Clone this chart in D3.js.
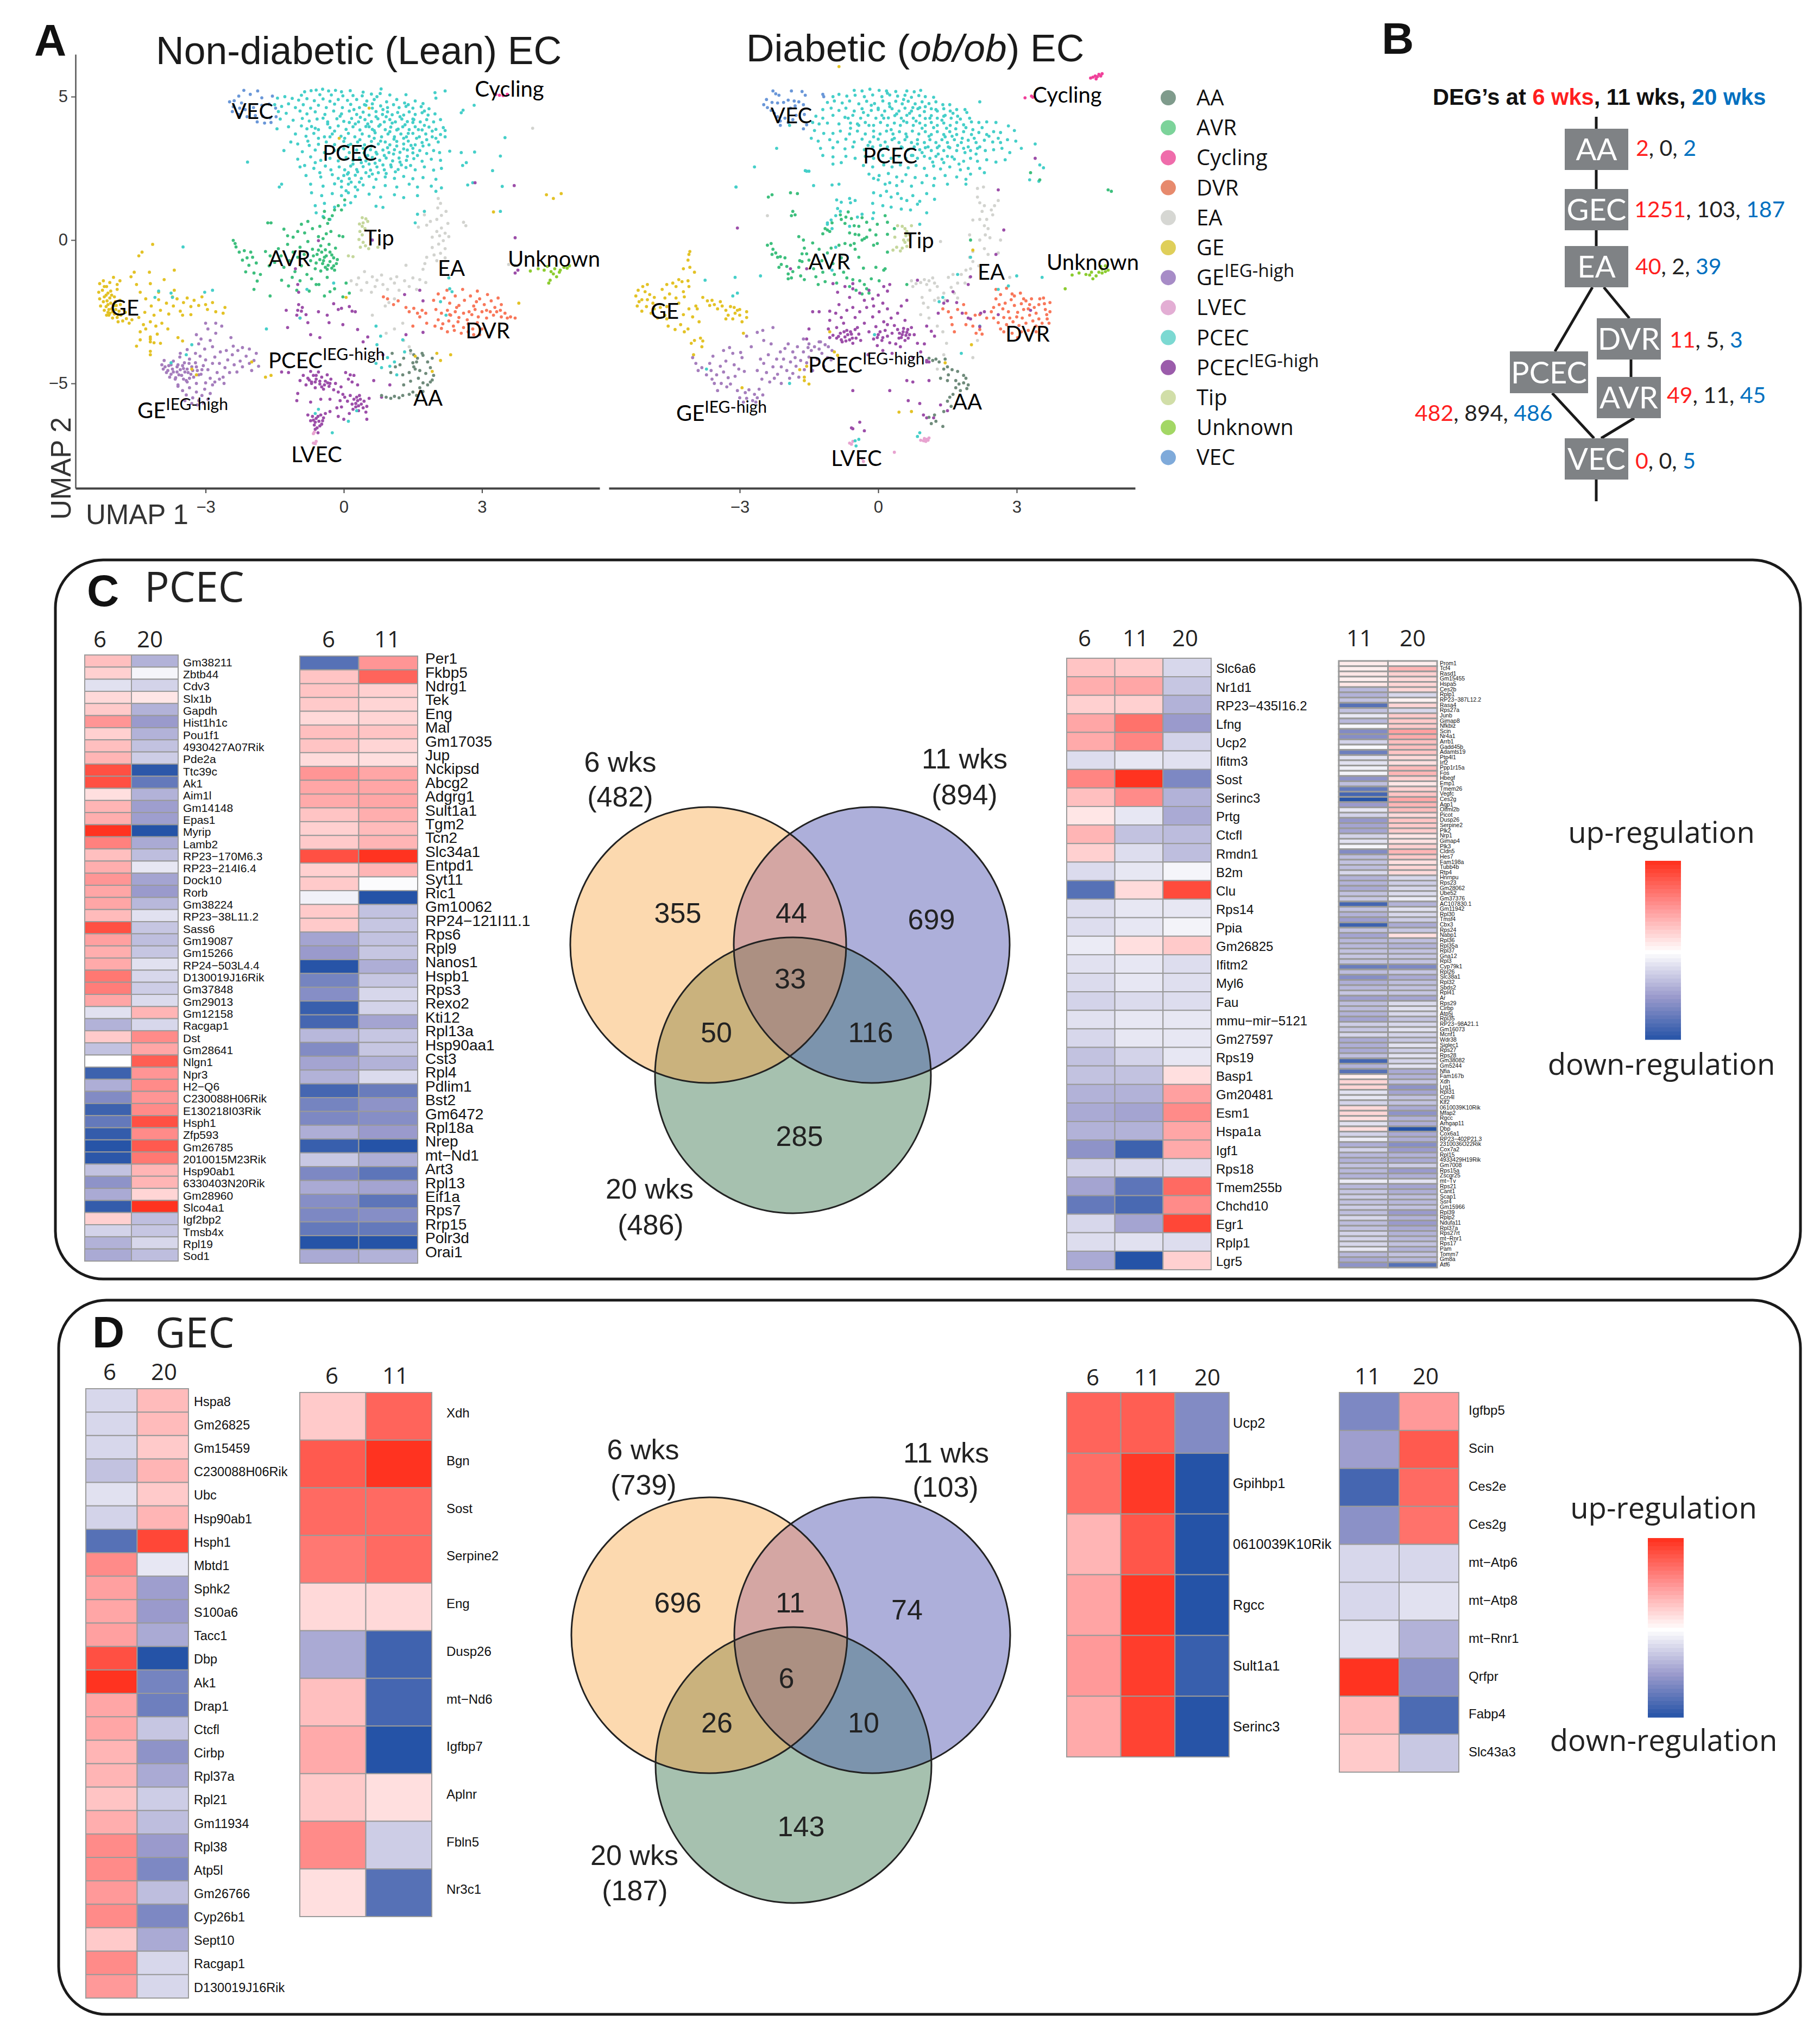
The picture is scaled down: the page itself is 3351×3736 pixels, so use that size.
<!DOCTYPE html>
<html><head><meta charset="utf-8">
<script src="https://cdn.jsdelivr.net/npm/d3@7"></script>
<style>html,body{margin:0;padding:0;background:#fff}svg{display:block}</style></head>
<body><div id="chart"></div>
<script>
// ---------- UMAP points (flat x,y lists) ----------
const lean_PCEC=[-.85,5.17,-.71,5.21,-.6,5.23,-.46,5.26,-.33,5.2,-.18,5.22,-.05,5.17,.14,5.21,.42,5.16,.81,5.27,.6,5.09,.79,5.11,-.92,5.05,-.52,5.07,-.27,5.06,-.02,5.03,.2,5.04,.4,5.03,.72,5,1,5.06,1.35,5.07,1.98,5.14,2.2,5.2,
-1.44,4.95,-1.28,5,-1.12,4.94,-.98,4.88,-.8,4.93,-.64,4.86,-.45,4.92,-.3,4.84,-.12,4.9,.08,4.87,.28,4.9,.5,4.85,.66,4.9,.93,4.82,1.15,4.9,1.32,4.78,1.55,4.85,1.72,4.76,
-1.5,4.72,-1.35,4.66,-1.2,4.75,-1.05,4.62,-.88,4.72,-.72,4.6,-.55,4.7,-.38,4.62,-.2,4.74,-.03,4.62,.15,4.73,.34,4.62,.48,4.7,.62,4.6,.8,4.68,.95,4.62,1.08,4.72,1.2,4.62,1.35,4.66,1.5,4.6,1.68,4.65,1.85,4.58,
-1.42,4.48,-1.25,4.42,-.95,4.5,-.8,4.4,-.62,4.47,-.41,4.38,-.22,4.5,-.05,4.4,.12,4.5,.28,4.38,.42,4.46,.55,4.36,.7,4.48,.84,4.38,.95,4.47,1.05,4.37,1.17,4.45,1.3,4.36,1.42,4.47,1.55,4.38,1.7,4.44,1.83,4.36,1.98,4.4,2.55,4.44,
-1.38,4.22,-1.1,4.18,-.9,4.24,-.75,4.15,-.58,4.22,-.35,4.12,-.15,4.23,0,4.14,.17,4.24,.32,4.12,.46,4.2,.6,4.13,.74,4.23,.88,4.12,1,4.2,1.12,4.12,1.26,4.22,1.38,4.13,1.52,4.2,1.66,4.12,1.8,4.2,1.95,4.12,2.1,4.2,
-1.45,3.88,-1.2,3.95,-.92,3.98,-.8,3.88,-.7,3.96,-.55,3.85,-.3,3.92,-.12,3.98,.05,3.86,.2,3.95,.35,3.84,.48,3.96,.62,3.86,.76,3.97,.9,3.85,1.02,3.94,1.15,3.84,1.28,3.95,1.42,3.85,1.55,3.95,1.7,3.84,1.85,3.94,2,3.86,2.16,3.92,
-1.05,3.7,-.82,3.62,-.65,3.72,-.42,3.6,-.25,3.7,-.06,3.62,.1,3.72,.24,3.6,.4,3.7,.55,3.62,.68,3.74,.82,3.6,.96,3.7,1.1,3.6,1.24,3.7,1.36,3.6,1.5,3.72,1.64,3.6,1.78,3.7,1.92,3.6,2.1,3.68,2.2,3.6,
-1.15,3.42,-1,3.35,-.78,3.45,-.55,3.34,-.38,3.42,-.2,3.33,0,3.44,.15,3.34,.3,3.42,.45,3.32,.6,3.44,.75,3.35,.9,3.42,1,3.32,1.15,3.44,1.3,3.35,1.4,3.45,1.55,3.32,1.7,3.4,1.85,3.32,2.05,3.42,
-1.3,3.12,-.9,3.08,-.62,3.14,-.42,3.05,-.2,3.12,0,3.18,.12,3.05,.28,3.14,.44,3.04,.58,3.15,.7,3.06,.85,3.14,.98,3.05,1.1,3.15,1.22,3.06,1.38,3.14,1.5,3.04,1.65,3.12,1.8,3.02,1.95,3.12,2.3,3.1,2.55,3.05,
-1,2.82,-.72,2.9,-.5,2.78,-.3,2.85,-.12,2.76,.05,2.88,.2,2.78,.34,2.86,.48,2.76,.62,2.88,.78,2.78,.92,2.86,1.06,2.76,1.2,2.86,1.36,2.78,1.52,2.84,1.7,2.75,1.9,2.82,2.1,2.78,2.58,2.6,
-.95,2.55,-.65,2.5,-.4,2.58,-.28,2.45,-.1,2.55,.02,2.45,.15,2.58,.28,2.46,.42,2.56,.58,2.44,.72,2.55,.88,2.45,1.03,2.55,1.18,2.46,1.35,2.53,1.55,2.45,1.75,2.55,1.95,2.44,2.12,2.5,
-.82,2.25,-.5,2.2,-.25,2.28,-.12,2.15,0,2.25,.12,2.14,.25,2.26,.38,2.15,.55,2.22,.7,2.12,.9,2.2,1.1,2.15,1.3,2.22,1.5,2.14,1.72,2.18,2,2.12,
-1.35,1.95,-1.4,1.85,-.72,1.95,-.45,1.88,-.2,1.96,-.05,1.85,.1,1.95,.25,1.85,.42,1.92,.65,1.84,.9,1.9,1.15,1.85,1.42,1.95,1.6,1.85,1.9,1.88,2.12,1.82,2,1.7,
-.7,1.65,-.48,1.55,-.25,1.62,-.05,1.55,.1,1.65,.25,1.52,.55,1.6,.8,1.5,1.1,1.58,1.3,1.48,1.6,1.55,-.62,1.2,-.42,1.28,-.2,1.15,.02,1.22,.15,1.3,.7,1.18,.85,1.14,-.6,.95,-.45,.82,-.3,.72,1.6,.9,1.75,1,1.55,.6,
-2.09,2.72,-3.49,-.24,2.59,4.53,2.83,4.7,2,4.95,2.66,2.7,3.4,2.93,3.23,2.42,2.84,3.07,3.5,3.57,3.4,1,3.44,1.87,2.69,1.92,2.8,2];
const lean_PCEC2=[.22,4.55,.36,4.28,.52,4.05,.66,3.82,.79,4.02,.85,4.55,.92,4.3,1,3.78,1.05,4.08,1.09,3.52,1.18,3.87,1.22,4.3,1.3,3.55,1.33,4.02,1.4,3.72,1.46,3.3,1.5,4.1,1.58,3.55,1.62,3.85,1.72,3.28,1.75,4,.35,3.5,.42,3.2,.52,2.95,.6,3.28,.66,3.55,.72,3,.8,3.45,.88,2.95,.95,3.22,1.02,2.62,1.08,3,1.15,3.28,1.22,2.72,1.3,3.18,1.38,2.92,1.45,2.6,1.5,3.2,1.6,2.95,.1,2.35,.2,2.65,.3,2.38,.38,2.7,.48,2.35,.55,2.65,.62,2.3,.68,2.68,.75,2.35,.85,2.62,.92,2.32,1.12,2.38,1.25,2.62,-.05,2.05,.08,2.3,.16,2.02,.34,2.02,.3,1.75,.05,1.72,-.35,4.05,-.2,3.8,-.55,3.55,-.75,3.3,-.62,3.9,-.45,4.25,-.3,3.6,-.85,2.6,-.62,2.7,-.52,2.35,1.8,3.5,1.92,3.8,2,3.55,2.08,3.05,2.2,3.82,.02,3.55,.1,3.3,.25,4.05,.12,4.1,-.08,4.32,-.12,3.15,.55,3.95,.7,4.3,.45,4.72,.62,4.75,1.4,4.72,1.5,4.22,1.75,4.5];
const lean_VEC=[-2.17,5.22,-1.87,5.2,-2.03,5.08,-2.28,5.02,-2.38,4.86,-2.48,4.82,-1.78,4.96,-1.55,5.02,-2.22,4.78,-2.4,4.65,-2.26,4.6,-2.14,4.55,-1.96,4.62,-1.78,4.7,-1.62,4.74,-1.48,4.6,-2.42,4.48,-2.28,4.38,-2.1,4.3,-1.92,4.34,-1.76,4.32,-1.6,4.26,-1.47,4.3,-1.88,4.12,-1.72,4.08,-1.58,4.1];
const lean_AVR=[-2.4,-.01,-2.34,-.24,-2.27,-.42,-2.16,-.37,-2.02,-.42,-2.2,-.7,-2.06,-.88,-2.13,-1.11,-1.95,-1.15,-1.81,-1.2,-1.88,-1.43,-2.36,-.12,-2.1,-.62,-1.98,-.6,-1.9,-.8,
-1.7,-.4,-1.6,-.55,-1.62,-.9,-1.5,-.78,-1.42,-.3,-1.36,-.55,-1.3,-.95,-1.22,-.15,-1.18,-.72,-1.1,-.42,-1.06,-1.1,-1,-.6,-.95,-.25,-.92,-.9,-.86,-.5,-.8,-1.2,-.78,-.05,-.72,-.72,-.68,-.32,-.62,-1,-.58,-.5,-.55,.12,-.5,-.2,-.46,-.82,-.42,-.6,-.4,-.34,-.36,-1.02,-.32,-.15,-.3,-.75,-.26,-.52,-.22,-.9,-.2,-1.05,-.18,-.28,-.14,-.68,-.5,-1.08,-.7,-1.35,-.95,-1.42,-1.12,-1.3,-.36,-1.3,-.54,-1.55,
-1.3,.38,-1.22,.15,-1.1,.1,-1,.3,-.92,.55,-.85,.25,-.78,.65,-.68,.4,-.52,.48,-.45,.05,-.43,.78,-.38,.22,-.28,.3,-.1,.15,-.02,.12,-.42,1,-.35,.58,-.32,.72,-.25,.85,-.2,1.05,-.12,1.2,-.05,1.05,.02,1.4,
-1.58,.6,-1.65,.6,-1.35,-1.4,-1.2,-1.6,-1.02,-1.75,-.75,-1.78,-.6,-1.55,-.42,-1.95,-.3,-1.8,-.2,-1.7,.05,-1.5,.12,-1.85,-.02,-1.98,-1.95,-1.72,-1.6,-1.95,
-.48,-.42,-.44,-.72,-.38,-.55,-.34,-.88,-.3,-.42,-.26,-.98,-.22,-.62,-.6,-.8,-.55,-.35,-.52,-.68,-.4,-.95,-.66,-.55,-.16,-.82];
const lean_Tip=[.4,.78,.48,.74,.52,.65,.42,.6,.34,.56,.4,.48,.46,.4,.35,.3,.4,.18,.33,.02,.42,-.08,.47,-.2,.36,-.25,.54,-.3,.74,-.25,.1,-.55,.2,-.58];
const lean_EA=[2.05,1.45,2.1,1.28,2.04,1.12,2.22,1,2.12,.86,2.02,.72,1.88,.65,1.8,.52,2.26,.58,2.12,.42,2.02,.3,2.2,.24,2.08,.15,1.92,.1,2.28,.12,2.16,-.02,2.06,-.14,1.92,-.26,2.2,-.3,2.1,-.46,1.96,-.52,1.8,-.6,2.02,-.72,2.2,-.62,1.76,-.82,1.72,-1.02,1.75,.88,1.62,.45,
.16,-1.42,.28,-1.55,.32,-1.32,.45,-1.1,.38,-1.75,.5,-1.48,.62,-1.28,.68,-1.62,.6,-1.82,.72,-1.4,.85,-1.55,.82,-1.22,.95,-1.72,1.02,-1.35,1.1,-1.5,1.15,-1.28,1.2,-1.75,1.32,-1.42,1.42,-1.62,1.5,-1.32,1.58,-1.72,1.65,-1.38,1.78,-1.48,1.35,-.88,1.1,-2.05,.98,-2.18,.9,-2.3,1.28,-2.9,.92,-3.25,1.1,-3.1,1.3,-3.5,1.42,-3.72,1.45,-3.95,.62,-2.62];
const lean_DVR=[.86,-1.98,.95,-2.05,1.08,-2.25,1.18,-2.12,1.35,-2.35,1.42,-2.5,1.52,-2.38,1.6,-2.55,1.7,-2.45,1.78,-2.55,1.65,-2.68,1.8,-2.9,1.5,-3,
1.95,-2.1,2.05,-1.88,2.18,-2.02,2.24,-1.75,2.3,-2.2,2.42,-1.95,2.5,-2.28,2.58,-1.72,2.62,-2.1,2.75,-1.95,2.82,-2.3,2.9,-1.78,2.95,-2.05,3.05,-2.25,3.12,-1.9,3.2,-2.12,3.28,-2.35,3.35,-2.02,3.42,-2.25,
2,-2.42,2.12,-2.55,2.25,-2.45,2.32,-2.62,2.42,-2.5,2.5,-2.7,2.6,-2.55,2.68,-2.78,2.78,-2.6,2.85,-2.42,2.92,-2.68,3,-2.5,3.1,-2.72,3.18,-2.5,3.25,-2.62,3.32,-2.5,3.42,-2.68,3.5,-2.55,3.55,-2.72,3.62,-2.68,3.72,-2.72,
2.05,-2.78,2.15,-2.92,2.28,-2.82,2.38,-3,2.48,-2.85,2.6,-3.05,2.7,-2.92,2.8,-3.1,2.9,-2.88,3,-3.1,2.12,-3.08,2.25,-3.2,2.4,-3.15,2.55,-3.25,2.7,-3.2,2.82,-3.3,2.95,-3.3,1.98,-3,2.3,-2.6,2.45,-2.35,2.72,-2.5,2.88,-2.15,3.1,-2.45,3.4,-2.45];
const lean_Unknown=[4.05,-1.08,4.22,-1,4.35,-1.05,4.42,-.92,4.5,-1.1,4.58,-1,4.62,-1.28,4.48,-1.4,4.45,-1.5,4.55,-1.18,4.7,-1.05,4.78,-.95,4.85,-.98,4.9,-.9,4.68,-1.12];
const lean_Cycling=[3.3,5.08,3.38,5.05,3.46,5.04,3.55,5.08];
const lean_GE=[-5.3,-1.52,-5.22,-1.42,-5.15,-1.62,-5.08,-1.48,-5,-1.3,-4.92,-1.55,-4.86,-1.42,-5.32,-1.82,-5.24,-1.75,-5.16,-1.92,-5.06,-1.78,-4.98,-1.98,-4.92,-1.72,-5.3,-2.05,-5.22,-2.15,-5.16,-2.32,-5.2,-2.45,-5.12,-2.52,-5.06,-2.2,-5.04,-2.4,-4.98,-2.58,-4.94,-2.28,-4.88,-2.48,-5.1,-2.62,-5.02,-2.72,-4.92,-2.7,-4.84,-2.62,-4.8,-2.82,-4.72,-2.74,-4.66,-2.9,-4.6,-2.78,-4.74,-2.52,-5.14,-2.12,-5.08,-2.02,-4.96,-2.15,-4.86,-2.1,
-5.2,-1.98,-5.12,-2.25,-5.08,-2.55,-5.02,-2.5,-4.98,-2.28,-4.95,-2.42,-5.1,-2.42,-5.15,-2.62,-4.9,-2.6,-4.85,-2.25,-5.28,-2.3,-5.04,-1.92,-5.12,-1.85,-5.2,-1.62,-4.78,-2.42,-4.9,-2.85,
-4.62,-1.28,-4.55,-1.12,-4.5,-1.55,-4.42,-1.82,-4.38,-.42,-4.45,-.55,-4.22,-1.12,-4.15,-.15,-4.2,-1.52,-3.68,-1.05,-4.02,-1.82,-3.9,-1.38,-3.68,-1.75,
-4.3,-2.05,-4.18,-2.3,-4.32,-2.52,-4.12,-2.62,-4.02,-2.08,-3.98,-2.45,-3.85,-2.2,-3.8,-2.58,-3.72,-1.98,-3.7,-2.3,-3.62,-2.05,-3.55,-2.48,-3.48,-2.18,-3.4,-2.02,-3.32,-2.32,-3.25,-2.1,-3.15,-2.28,-3.08,-1.98,-3,-2.25,-2.96,-2.42,-2.85,-2.18,-2.78,-2.5,-3.5,-2.62,-3.32,-2.6,
-4.45,-2.7,-4.35,-2.95,-4.2,-2.85,-4.08,-3,-3.95,-2.9,-3.82,-3.1,-4.42,-3.2,-4.3,-3.1,-4.2,-3.38,-4.42,-3.48,-4.12,-3.58,-4.05,-3.28,-3.98,-3.6,-3.6,-3.4,-3.5,-3.52,-4.2,-3.88,-4.5,-3.7,-4.2,-3.45,-4.2,-4,-4.2,-3.55,-2.58,-2.35,-2.62,-2.55];
const lean_GEhigh=[-3,-2.9,-2.95,-3.1,-2.78,-2.9,-2.65,-3,-2.78,-3.25,-2.45,-3.4,-3.2,-3.3,-3.1,-3.45,-2.9,-3.5,-3.15,-3.62,-3.02,-3.8,-2.85,-3.72,-2.68,-3.9,-3.22,-3.95,-3.4,-3.82,-3.55,-3.95,-2.55,-3.85,-2.4,-3.7,-2.3,-3.85,-2.2,-3.75,-2.05,-3.8,
-3.95,-4.35,-3.92,-4.5,-3.9,-4.2,-3.85,-4.62,-3.8,-4.38,-3.78,-4.78,-3.72,-4.5,-3.7,-4.22,-3.66,-4.85,-3.62,-4.6,-3.6,-4.35,-3.56,-4.08,-3.52,-4.72,-3.48,-4.48,-3.46,-4.28,-3.42,-4.9,-3.38,-4.62,-3.35,-4.15,-3.3,-4.42,-3.26,-4.78,-3.22,-4.28,-3.18,-4.55,-3.12,-4.05,-3.1,-4.68,-3.05,-4.38,-3,-4.18,-2.95,-4.52,-2.9,-4.82,-2.85,-4.3,-2.8,-4.08,-2.75,-4.62,-2.7,-4.3,-2.62,-4.78,-2.58,-4.45,-2.52,-4.18,-2.48,-4.62,-2.42,-4,-2.38,-4.35,-2.32,-4.6,-2.25,-4.22,-2.2,-4.42,-2.12,-4.05,-2.05,-4.3,-2,-4.55,-1.95,-4.2,-1.9,-3.95,-1.85,-4.4,
-3.88,-4.42,-3.82,-4.55,-3.75,-4.35,-3.7,-4.6,-3.62,-4.42,-3.58,-4.7,-3.55,-4.52,-3.5,-4.38,-3.45,-4.6,-3.4,-4.5,-3.36,-4.3,-3.32,-4.68,-3.28,-4.55,-3.75,-4.68,-3.65,-4.8,-3.48,-4.85,-3.35,-4.82,-3.2,-4.42,-3.15,-4.7,-3.08,-4.52,
-3.6,-5.1,-3.5,-5.25,-3.42,-5.4,-3.35,-5.15,-3.28,-5.5,-3.2,-5.3,-3.15,-5.6,-3.08,-5.42,-3.02,-5.2,-2.95,-5.55,-2.9,-5.35,-2.85,-5.05,-3.45,-5.6,-3.3,-5.7,-3.18,-5.75,-3.05,-5.68,-3.6,-5.05,-3.4,-4.95,-3.2,-5,-3,-4.98,-2.8,-4.95,-2.7,-4.85,-2.6,-5];
const lean_PCECh=[-.95,-4.9,-.88,-4.72,-.82,-5.05,-.78,-4.82,-.72,-4.58,-.7,-4.95,-.66,-4.72,-.62,-5.15,-.6,-4.85,-.55,-4.6,-.52,-5.02,-.48,-4.78,-.44,-5.2,-.4,-4.92,-.36,-4.7,-.32,-5.1,-.28,-4.85,-.22,-5.22,-.18,-5,-.12,-5.3,-.06,-5.12,-.02,-5.38,.04,-4.62,.1,-4.85,.14,-4.7,.18,-4.95,.22,-4.72,.02,-5.48,.08,-5.62,.14,-5.42,.18,-5.72,.22,-5.55,.26,-5.82,.3,-5.6,.34,-5.42,.38,-5.72,.42,-5.85,.44,-5.62,.32,-5.95,.5,-5.8,.2,-5.9,
-.7,-5,-.6,-4.72,-.52,-4.92,-.42,-5.05,-.35,-4.98,-.62,-4.95,-.48,-5.12,-.3,-5,-.75,-4.88,.26,-5.7,.32,-5.78,.36,-5.55,.28,-5.48,-.62,-6.35,-.56,-6.15,-.52,-6.48,-.66,-6.28,-.46,-6.3,
-.78,-6.1,-.72,-6.3,-.68,-6.15,-.64,-6.45,-.6,-6.22,-.58,-6.55,-.54,-6.32,-.5,-6.1,-.48,-6.42,-.44,-6.2,-.4,-6.05,-.62,-6.6,-.56,-6.72,-.3,-5.98,-1,-5.35,-1.02,-5.6,-.72,-5.65,-.5,-5.55,-.3,-5.55,-.15,-5.85,-.12,-6.15,0,-6.25,.12,-6.05,.5,-6.25,.48,-6,-.05,-5.82,
-1.05,-1,-1,-1.55,-.98,-1.82,-.98,-2.25,-1,-2.45,-1.02,-2.62,-.95,-2.72,-.92,-2.48,-.9,-2.35,-.82,-2.6,-.78,-2.88,-.72,-3.3,-.55,-2.5,-.36,-2.62,-.32,-2.88,-.22,-2.22,-.12,-2.42,-.05,-2.38,.12,-2.32,.18,-2.48,.25,-2.5,.3,-3.12,.52,-3.38,-.52,-3.4,-1.22,-3.05,-1.25,-2.45,-.02,-2.95,-1.35,-4.6,-1.2,-4.62,.85,-4,.42,-3.55,1.35,-3.3,1.72,-3.22,1.65,-1.75,1.72,-2.12,1.32,-1.9,-.55,-.02,.62,0,2.85,2,3.7,1.9,3.72,-1.15,3.78,-1.05,3.72,.08,.82,-5.48,.65,-4.9,.3,-5.05,-.08,-5.6,.55,-5.52,1,-5.05];
const lean_AA=[.82,-5.42,.92,-5.48,1.02,-5.52,1.1,-5.45,1.2,-5.5,1.28,-5.42,1.42,-5.38,1.5,-5.3,1.58,-5.42,1.65,-5.15,1.72,-5.28,1.82,-5.05,1.88,-4.95,1.72,-4.98,1.62,-4.82,1.42,-4.62,1.28,-4.7,1.45,-4.92,1.3,-5.05,1.52,-4.42,1.65,-4.55,1.78,-4.65,1.88,-4.45,1.95,-4.72,1.5,-4.28,1.6,-4.12,1.72,-4.02,1.58,-4.25,1.82,-4.25,1.92,-4.12,1.7,-3.95,1.52,-4,1.45,-3.85,1.55,-4.5,1.92,-4.88,1.22,-4.35,1.02,-4.62,1.12,-4.42,1.05,-3.95,1.3,-4.12];
const lean_LVEC=[-.66,-6.75,-.64,-6.7,-.62,-7.1,-.66,-7.08,-.6,-7.02];
const lean_strayPCEC=[.7,-4.3,.95,-4.1,1,-4.4,1.1,-4.25,.82,-4.45,1.32,-3.9,1.15,-4.7,.1,-6.32,-.25,-6.72,-.55,-5.9,-.62,-6.05,.28,-5.95,-1.68,-3.1,-.95,-2.72,-.22,-1.5,-.8,-1.72,2.3,-1.7,2.35,-1.8,2.22,-2.62,2.1,-2.15,2.28,-1.32,.7,-3,.8,-3.35,.72,-3.65,1.28,-3.48,-3.75,-1.85,-3.72,-2,-4.1,-2,-4.02,-1.78,-3.02,-1.82,-2.85,-1.75,-3.75,-4.28,-3.42,-4,-3.3,-3.65];
const lean_strayGE=[4.4,1.58,4.55,1.45,4.72,1.62,3.25,.98,3.8,-2.2,2.02,-3.95,2.1,-4.2,1.92,-4.58,2.32,-4,1.55,-4.05,.05,-2,-1.58,-4.72,-1.7,-4.78,-3.3,-4.5,-2,-4.25,-.1,3.55,.55,4.6,-3.2,-4.7];
const lean_strayGrey=[4.1,3.9,3.58,-.85,3.72,-.88,2.6,.62,2.65,.5];

const ob_PCEC=[-.52,5.22,-.35,5.2,-.18,5.26,.02,5.22,.18,5.2,.38,5.18,.62,5.2,.78,5.17,.92,5.22,-.98,5,-.85,5.08,-.68,5.02,-.5,5.05,-.3,5,-.12,5.06,.08,5,.25,5.06,.42,5.02,.58,5.05,.72,4.98,.88,5.04,1.02,5,1.2,4.98,2.2,4.82,
-1.1,4.8,-.95,4.85,-.78,4.78,-.62,4.85,-.42,4.75,-.25,4.84,-.08,4.76,.1,4.85,.24,4.76,.38,4.84,.52,4.75,.65,4.84,.8,4.75,.95,4.82,1.1,4.76,1.25,4.82,1.4,4.72,1.55,4.72,
-1.2,4.55,-1.02,4.6,-.85,4.52,-.7,4.6,-.52,4.5,-.35,4.58,-.15,4.52,0,4.6,.14,4.5,.3,4.58,.45,4.5,.58,4.6,.72,4.5,.86,4.58,1,4.48,1.15,4.58,1.28,4.5,1.42,4.58,1.56,4.5,1.7,4.55,1.92,4.45,
-1.35,4.32,-1.2,4.25,-.98,4.35,-.72,4.28,-.55,4.35,-.38,4.25,-.22,4.35,-.05,4.25,.08,4.35,.22,4.26,.36,4.34,.5,4.25,.62,4.35,.76,4.25,.9,4.34,1.02,4.24,1.15,4.34,1.28,4.25,1.42,4.32,1.58,4.25,1.72,4.32,
-1.42,4.1,-1.28,4.05,-1.1,4.08,-.85,4.05,-.6,4.08,-.42,4,-.28,4.1,-.1,4,.05,4.1,.2,4,.35,4.08,.48,4,.62,4.1,.76,4,.9,4.08,1.02,4,1.15,4.1,1.28,4,1.42,4.08,1.56,4,1.7,4.1,1.85,4.02,2.02,4.12,2.18,4.1,2.35,4.12,2.55,4.1,2.82,3.98,
-1.38,3.82,-1.18,3.72,-.98,3.72,-.82,3.8,-.62,3.7,-.45,3.8,-.28,3.7,-.1,3.8,.04,3.7,.18,3.8,.32,3.7,.46,3.78,.6,3.7,.74,3.8,.88,3.7,1.02,3.78,1.15,3.68,1.28,3.78,1.42,3.68,1.55,3.78,1.7,3.68,1.85,3.78,2.02,3.68,2.18,3.75,2.35,3.68,2.5,3.78,2.65,3.75,2.95,3.82,
-1.45,3.55,-1.3,3.45,-1.05,3.5,-.88,3.42,-.7,3.52,-.52,3.42,-.35,3.52,-.18,3.42,0,3.52,.15,3.42,.3,3.5,.45,3.4,.58,3.5,.72,3.4,.85,3.5,1,3.4,1.12,3.5,1.25,3.4,1.38,3.5,1.5,3.4,1.65,3.5,1.8,3.4,1.95,3.48,2.12,3.4,2.3,3.48,2.48,3.42,2.65,3.4,2.8,3.5,2.98,3.45,
-1.25,3.2,-.98,3.22,-.72,3.18,-.55,3.25,-.3,3.15,-.12,3.25,.05,3.15,.2,3.25,.35,3.15,.52,3.22,.65,3.15,.78,3.25,.9,3.15,1.02,3.22,1.15,3.12,1.28,3.22,1.42,3.12,1.55,3.22,1.7,3.12,1.85,3.2,2,3.12,2.15,3.2,2.32,3.12,2.5,3.15,2.68,3.2,2.85,3.05,3.1,3.2,
-1.2,2.95,-.98,2.9,-.7,2.92,-.5,2.85,-.28,2.92,-.1,2.85,.1,2.95,.28,2.85,.45,2.92,.6,2.85,.72,2.95,.85,2.85,1,2.92,1.12,2.85,1.25,2.92,1.38,2.82,1.5,2.92,1.65,2.82,1.85,2.75,2,2.85,2.15,2.75,2.35,2.8,2.55,2.72,2.75,2.8,
-.98,2.65,-.8,2.7,-.32,2.6,-.12,2.55,.12,2.62,.3,2.55,.48,2.62,.65,2.52,.82,2.6,1,2.5,1.2,2.58,1.35,2.48,1.55,2.55,1.78,2.45,1.95,2.5,2.2,2.5,2.3,2.35,
-1.58,2.42,-1.5,2.4,-.2,2.3,.02,2.25,.22,2.32,.4,2.2,.6,2.28,.8,2.18,1.05,2.25,1.22,2.15,1.45,2.25,1.7,2.2,1.9,2.12,2,2.3,
-.1,2.15,0,2.1,.15,1.95,.25,2,.4,1.9,.52,2.05,.72,1.88,.95,2,1.2,1.9,1.5,1.95,1.9,1.95,-1,1.92,-.85,1.95,-1.4,1.9,
-.1,1.65,.05,1.55,.18,1.7,.28,1.5,.42,1.62,.5,1.45,.62,1.38,.75,1.55,.9,1.35,1.05,1.62,1.22,1.42,-.9,1.4,-.8,1.32,-.6,1.3,-.62,1.45,-.5,1.38,-.12,1.28,.1,1.2,.28,1.15,.5,1.08,.7,1.05,.85,1.25,
-.82,1,-.92,.85,-1.02,.7,-.88,1.1,-1.1,.55,.9,.55,-.35,.9,-.1,.95,-3.08,1.85,-1.1,.6,3.4,3.35,3.5,2.62,3.58,2.52,3.28,2.1,3.48,2.05,1.05,.95,-.45,.8,-.12,.75,-.92,-.25,-1,.4,1.72,-1.2,1.4,-2,-.62,.48,-1,-1.05,2,-.6];
const ob_PCEC2=[.25,4.65,.4,4.4,.55,4.15,.68,4.42,.82,4.15,.95,3.9,1.02,4.65,1.1,3.62,1.2,3.92,1.25,4.55,1.32,3.28,1.38,4.18,1.45,3.6,1.48,3.9,1.52,3.25,1.6,3.62,1.62,4.42,1.68,3.88,1.72,3.3,1.78,4.22,1.82,3.55,1.88,4.55,1.9,3.92,1.95,3.25,1.98,4.25,2.05,3.85,2.08,3.55,2.12,3,2.25,3.92,.35,3.55,.5,3.25,.62,3.6,.75,2.95,.85,3.35,.95,3.05,1.08,3.25,1.18,2.72,1.3,3,1.42,2.7,1.6,2.9,1.75,2.65,1.88,3.05,-.1,3.6,-.2,4,-.32,4.45,-.45,4.05,0,4.55,.12,4.25,.28,3.85,-.6,3.9,-.65,4.25,-.15,4.7,.2,5.12,.55,4.9,.75,4.62,.9,4.62,-.22,3.3,.05,3.3,1.12,4.25,1.45,4.35,2.2,3.25,2.4,3.62,2.6,3.55];
const ob_VEC=[-2.28,5.2,-2.22,5.1,-2.15,5.05,-1.88,5.2,-1.65,5.18,-1.58,5.05,-2.42,4.9,-2.48,4.72,-2.4,4.62,-2.3,4.8,-2.18,4.78,-2.05,4.8,-1.95,4.88,-1.82,4.85,-1.72,4.82,-1.62,4.72,-1.9,4.6,-1.8,4.68,-2.32,4.52,-2.25,4.42,-2.18,4.3,-2.12,4.15,-2.02,4.25,-1.95,4.1,-1.85,4.2,-1.78,4.35,-1.6,4.38,-1.55,4.02,-1.62,3.88,-2.12,4,-1.2,5.08,-1.18,5];
const ob_AVR=[-2.4,-.18,-2.32,-.12,-2.28,-.32,-2.22,-.45,-2.3,-.5,-2.18,-.6,-2.12,-.58,-2.02,-.62,-2.1,-.85,-2.15,-.95,-1.98,-.92,-1.95,-1.18,-1.95,-1.35,-1.85,-1.1,-1.88,-1.32,-1.7,-.72,-1.72,-.95,-1.65,-.48,-1.6,-.28,-1.62,0,-1.72,.12,-1.65,-.75,-1.68,-1.25,-1.6,-1.38,
-1.55,-.48,-1.5,-.7,-1.42,-.1,-1.4,-1,-1.35,-1.28,-1.3,-1.55,-1.28,-.32,-1.22,-.72,-1.2,-1.12,-1.15,-1.45,-1.1,-.45,-1.02,-.28,-.98,-.82,-.95,-1.2,-.9,-1.5,-.85,-.18,-.8,-.62,-.75,-1.12,-.72,-.12,-.68,-1.32,-.62,-1.62,-.6,-.18,-.55,-1.38,-.52,-.12,-.48,-1.75,-.42,-.6,-.4,-1.42,-.35,-1.88,-.32,-.98,-.3,-1.55,-.25,-1.7,-.2,-1.85,-.15,-1.35,-.1,-.18,-.05,-.95,.02,-1.42,.12,-1.05,.2,-.42,.15,-1,-.02,-.12,
-1.2,.22,-1.15,.4,-1.1,.35,-1.05,.3,-1,.6,-.82,.88,-.8,.72,-.72,.58,-.7,.8,-.65,.98,-.58,.75,-.52,.5,-.62,.25,-.5,.2,-.5,-.32,-.42,.18,-.42,.48,-.35,0,-.3,.05,-.25,.1,-.35,.78,-.18,.35,-.05,.18,-.25,.62,.2,.62,.15,.85,-.02,.55,-1.8,.88,-1.85,1,-2.38,1.5,-2.3,1.58,.35,.4,.2,.2,.62,-1.55];
const ob_Tip=[.42,.5,.52,.48,.58,.4,.62,.3,.6,.15,.65,0,.58,-.08,.62,-.22,.52,-.28,.4,-.25,.32,-.35,.48,-.38,.68,.18,.55,0,.72,.5,.36,.1];
const ob_EA=[2.15,1.8,2.28,1.85,2.15,1.5,2.2,1.3,2.3,1.2,2.25,1,2.45,1.05,2.52,1.2,2.6,1.38,2.48,.88,2.35,.72,2.2,.72,2.05,.7,2.3,.5,2.38,.4,2.32,.18,2.42,.08,2.2,0,2.3,-.3,2.38,-.5,2.6,-.45,2.65,0,1.98,.18,2.05,-.4,1.98,-.6,2.05,-.75,2,-1,2.18,-.9,1.9,-1.05,1.8,-1.2,1.98,-1.3,1.88,-1.5,1.72,-1.5,
.72,-1.42,.75,-1.62,.82,-1.52,.92,-1.48,1,-1.38,1.1,-1.42,1.18,-1.32,1.22,-1.5,1.28,-1.62,1.05,-1.55,1.12,-1.75,.95,-2,.98,-2.2,1.08,-2.35,1.22,-2.1,1.3,-2.02,1.45,-2.1,1.42,-1.85,1.58,-1.65,1.65,-1.85,1.72,-2.02,1.52,-1.3,1.62,-1.2,.92,-2.6,1.1,-2.72,1.28,-3,1.4,-3.2,1.48,-3.6,1.42,-4,1.28,-4.5];
const ob_DVR=[1.4,-2.4,1.52,-2.5,1.72,-2.42,1.85,-2.25,1.9,-2.55,1.58,-2.7,2.1,-2.62,2.2,-2.6,2.35,-2.72,2.45,-2.5,1.9,-2.95,2.05,-3,2.2,-3.12,2.12,-3.25,2.25,-3.28,1.6,-2.95,1.65,-3.2,
2.55,-1.72,2.65,-1.9,2.78,-1.68,2.9,-1.88,2.95,-1.95,3.08,-1.85,3.15,-2.05,2.55,-2.05,2.62,-2.25,2.5,-2.35,2.7,-2.4,2.75,-2.2,2.82,-2.5,2.88,-2.08,2.95,-2.28,3.02,-2.52,3.1,-2.22,3.15,-2.42,3.2,-2.12,3.25,-2.4,3.28,-2.25,3.32,-2.05,3.38,-2.35,3.42,-2.55,3.48,-2.25,3.5,-2.05,3.58,-2.02,3.6,-2.22,3.62,-2.42,3.65,-2.6,3.66,-2.75,3.7,-2.9,3.72,-2.5,3.72,-2.18,
2.5,-2.72,2.6,-2.88,2.72,-2.7,2.78,-2.95,2.85,-2.72,2.92,-2.85,3,-2.68,3.05,-2.98,3.12,-2.72,3.2,-2.9,3.28,-2.62,3.35,-2.82,3.42,-3,3.48,-2.75,3.55,-2.9,2.65,-3.1,2.9,-3.25,3.1,-3.2,3.25,-3.15,3.42,-3.2,2.72,-3.2,3.02,-3.4];
const ob_Unknown=[4.2,-1.22,4.35,-1.15,4.5,-1.2,4.58,-1.22,4.62,-1.12,4.72,-1.25,4.78,-1.12,4.85,-1.15,4.92,-1.1,4.98,-1.05,4.65,-1.35,4.85,-1.02,4.05,-1.7,4.82,-.92,4.92,-.9];
const ob_Cycling=[4.6,5.65,4.65,5.68,4.7,5.72,4.75,5.7,4.78,5.78,4.72,5.62,4.82,5.72,4.85,5.8,3.18,4.96,3.32,5.02,3.35,4.98];
const ob_GE=[-5.2,-1.75,-5.1,-1.62,-5,-1.55,-5.05,-1.8,-4.95,-1.9,-5.25,-1.95,-5.18,-2.15,-5.12,-2.08,-5.22,-2.3,-5.12,-2.48,-5.02,-2.32,-5,-2.08,-4.92,-2.55,-4.88,-2.2,-4.85,-2.4,-4.85,-2,-4.78,-2.72,-4.72,-2.35,-4.68,-1.72,-4.62,-2.02,-4.58,-2.32,-4.58,-1.55,-4.52,-1.88,-4.45,-1.5,-4.38,-1.62,-4.32,-1.38,-4.25,-1.45,-4.22,-1.8,-4.2,-1.98,-4.12,-1.42,-4.1,-1.62,-4.32,-2.2,-4.38,-2.02,
-4.62,-2.62,-4.58,-2.75,-4.55,-3,-4.4,-3.12,-4.28,-2.95,-4.22,-2.6,-4.2,-3.2,-4.12,-3.1,-4.1,-2.4,-4.02,-2.68,-4.05,-3.6,-3.98,-3.5,-3.95,-2.3,-3.88,-2.85,-3.85,-3.42,-3.82,-3.72,-3.8,-3.52,-4,-4,-4.22,-1,-4.12,-.7,-4.1,-.5,-4.08,-.95,-4.08,-.4,-3.98,-1.12,
-3.92,-2.4,-3.8,-2,-3.7,-2.12,-3.65,-2.28,-3.6,-2.1,-3.55,-2.25,-3.48,-2.4,-3.42,-2.15,-3.38,-2.3,-3.3,-2.45,-3.25,-2.62,-3.2,-2.32,-3.15,-2.75,-3.1,-2.55,-3.05,-2.45,-3,-2.62,-2.95,-2.85,-3,-2.42,-2.85,-2.5,-2.85,-2.7,-3.12,-2.35,-3.3,-2.75];
const ob_GEhigh=[-4.02,-4.1,-3.95,-4.3,-3.9,-4.55,-3.82,-4.45,-3.72,-4.7,-3.65,-4.3,-3.62,-4.55,-3.58,-4.05,-3.6,-4.85,-3.55,-5,-3.5,-4.7,-3.48,-5.25,-3.42,-4.4,-3.4,-5,-3.35,-4.6,-3.35,-3.85,-3.3,-4.22,-3.28,-5.12,-3.25,-4.8,-3.22,-3.75,-3.2,-5.02,-3.15,-3.95,-3.12,-4.35,-3.1,-4.75,-3.05,-5.25,-3.02,-4.5,-2.98,-3.92,-3,-5.5,-2.95,-4.1,-2.9,-4.58,-2.88,-5.32,-2.85,-5.52,-2.8,-5.22,-2.75,-3.72,-2.72,-5.6,-2.68,-5.38,-2.62,-5.5,-2.65,-5.65,-2.58,-5.2,-2.5,-5.4,-2.92,-5.65,
-2.85,-3.35,-2.62,-3.22,-2.5,-3.15,-2.48,-3.5,-2.62,-4.55,-2.55,-4.15,-2.52,-4.85,-2.48,-4.3,-2.42,-4.62,-2.38,-4,-2.35,-4.95,-2.32,-3.62,-2.28,-4.42,-2.25,-4.82,-2.2,-4.15,-2.18,-4.68,-2.12,-3.9,-2.1,-4.42,-2.1,-5,-2.05,-4.15,-2.02,-3.78,-1.98,-4.55,-1.95,-3.62,-1.92,-4.82,-1.9,-4.25,-1.85,-3.9,-1.85,-4.65,-1.8,-4.1,-1.78,-4.4,-1.75,-3.72,-1.72,-4.78,-1.68,-4.2,-1.62,-3.9,-1.6,-4.52,-1.55,-4.28,-1.52,-3.75,-1.5,-4.08,-1.45,-3.85,-1.42,-4.55,-1.38,-3.72,-1.32,-4.15,-1.28,-3.8,-1.25,-3.55,-1.22,-3.95,-1.18,-4.4,-1.15,-3.65,-1.1,-4.1,-1.08,-3.72,-1.05,-3.4,-1,-3.85,-1.02,-4.18,-1.28,-3.55,-1.62,-3.45,-1.5,-3.62,-2.28,-3.05];
const ob_PCECh=[-.98,-1.52,-.88,-1.82,-.72,-1.62,-.62,-2,-.55,-1.7,-.4,-1.85,-.3,-2.1,-.2,-1.75,-.12,-2.05,0,-1.92,.12,-1.62,.2,-1.78,.1,-2.2,-.1,-2.3,
-1.42,-2.5,-1.28,-2.5,-1.05,-2.48,-1.05,-2.8,-.92,-2.55,-.9,-3.05,-.85,-2.25,-.8,-2.7,-.75,-2.9,-.68,-2.45,-.55,-2.35,-.5,-2.7,-.45,-3.05,-.4,-2.5,-.3,-2.9,-.25,-2.35,-.12,-2.68,-.05,-3.02,.02,-2.5,.12,-2.85,.2,-2.4,.28,-2.72,.35,-2.98,.42,-2.55,.5,-2.3,.58,-2.8,.62,-2.1,
-1.08,-3.1,-.98,-3.32,-.9,-3.42,-.82,-3.25,-.78,-3.55,-.72,-3.38,-.68,-3.15,-.62,-3.48,-.58,-3.28,-.55,-3.6,-.5,-3.12,-.48,-3.42,-.42,-3.28,-.38,-3.5,-.2,-3.2,-.1,-3.45,-.02,-3.68,0,-3.3,.08,-3.5,.15,-3.15,.2,-3.35,.25,-3.58,.3,-3.25,.38,-3.62,.42,-3.12,.45,-3.42,.52,-3.3,.55,-3.08,.58,-3.5,.62,-3.22,.65,-3.42,.48,-3.72,.72,-3.05,.78,-3.3,.85,-3.6,.92,-3.9,1,-3.62,1.05,-3,1.15,-3.18,1.22,-3.35,1.3,-2.55,1.42,-2.2,1.7,-2.18,2,-2.75,2.22,-2.55,-.22,-4,.1,-3.85,.3,-3.95,.75,-4.1,1.1,-4.25,-1.05,-3.4,-1.5,-3.1,-1.55,-3.45,1.05,-4.2,1.05,-4.25,
-.86,-3.36,-.8,-3.48,-.74,-3.2,-.7,-3.52,-.66,-3.3,-.6,-3.2,-.56,-3.42,.5,-3.4,.54,-3.2,.6,-3.32,.64,-3.12,.68,-3.3,.46,-3.25,-.02,-3.4,.04,-3.2,.1,-3.4,
1.1,-4.9,.62,-4.9,.75,-4.95,-.55,-5.25,.25,-5.25,.65,-5.6,.9,-5.7,1.35,-5.75,1.5,-5.95,.98,-6.1,1.05,-6.2,1.2,-6.2,-.4,-6.35,-.55,-6.58,-.3,-6.65];
const ob_AA=[1.1,-4.12,1.18,-4.2,1.25,-4.15,1.32,-4.25,1.45,-4.15,1.5,-4.42,1.42,-4.5,1.6,-4.52,1.52,-4.7,1.35,-4.82,1.5,-4.9,1.72,-4.58,1.85,-4.72,1.9,-4.82,1.68,-4.9,1.75,-5.02,1.85,-4.98,1.68,-5.15,1.78,-5.25,1.92,-5.18,1.95,-5.05,1.62,-5.38,1.5,-5.62,1.58,-5.8,1.42,-5.98,1.22,-6.1,1.1,-6.18,1.25,-6.32,1.15,-6.4,1.4,-6.5,1.55,-5.48];
const ob_LVEC=[1,-6.92,1.05,-6.95,.98,-7,1.08,-6.98,1.03,-7.02,1.1,-6.9,.92,-6.98,-.62,-7.08,-.58,-7.12,-.55,-7.02,-.35,-7.62,-.32,-7.72,.35,-7.4];
const ob_strayGE=[-.85,6.05,-1.05,-3.2,-.95,-3.9,-.88,-4.02,-1.6,-4.78,-1.55,-4.4,-1.7,-4.52,-1.6,-4.9,.45,-6,.72,-5.98,1.45,-4.28,2.05,-.35,2.02,-3.65,-2.95,-5.15,-2.92,-3.25,-1.5,-5.02];
const ob_strayPCEC=[-3.08,1.85,-2.68,2.55,-2.2,3.2,-1.92,4,-1.55,2.4,-2.55,-1.25,-3.05,-1.85,-3.15,-1.95,-3.75,-1.4,-3.1,-1.3,-.08,-3.3,-3.72,-4.5,2.2,-3,1.32,-2.15,3,-1.25,3.55,-1.3,.9,-6.72,.85,-6.85,-.5,-7,-.48,-7.18,-.42,-6.95,2.6,-1.72,2.82,-1.6,1.8,-3.95,-1.92,-5];
const ob_strayPurple=[-3.05,.42,3.4,2.85,.2,-2.95,2.6,1.75,2.72,.35,2.55,-.5,1.95,-1.55,2,-1.28,1.62,-1.8,.85,-1.4,.25,-1.55,-.55,-1.52,-1.55,-1,-1.9,-1,2.3,-2.5,2.6,-2.6,2.2,-3.02,1.95,-2.72,1.82,-2.55,3.3,-2.45,1.5,-2.12,-.58,-6.55];
const ob_strayGreen=[4.98,1.75,5.05,1.7,3.3,2.35,3.5,2.1,-1.75,1.62,-1.9,1.65,-1.88,.85,2,0];
const ob_strayGrey=[-2.4,.85,1.35,-.05,2.85,-1.3,2.15,-3.5,2.05,-4.1];

// ---------- cluster names and colours ----------
const clusterNames=["AA","AVR","Cycling","DVR","EA","GE","GE|IEG-high","LVEC","PCEC","PCEC|IEG-high","Tip","Unknown","VEC"];
const legendColors=["#7f9b8c","#7cd39a","#ef6cab","#e78a6d","#d6d7d3","#dfcf5a","#a78cc7","#e3aed4","#7cd9d2","#9b5cab","#d1dea8","#a3d765","#7faada"];
const dotColors={AA:"#6f8b7b",AVR:"#3dbf7d",Cycling:"#f0409a",DVR:"#f8775a",EA:"#d2d3cf",GE:"#e3c226",GEh:"#a57dbd",LVEC:"#e8a3d0",PCEC:"#45cfc9",PCECh:"#9c4ea9",Tip:"#c5d79c",Unknown:"#8ccc30",VEC:"#6a97d8"};

// ---------- heatmap values ----------
const c1Genes=["Gm38211","Zbtb44","Cdv3","Slx1b","Gapdh","Hist1h1c","Pou1f1","4930427A07Rik","Pde2a","Ttc39c","Ak1","Aim1l","Gm14148","Epas1","Myrip","Lamb2","RP23−170M6.3","RP23−214I6.4","Dock10","Rorb","Gm38224","RP23−38L11.2","Sass6","Gm19087","Gm15266","RP24−503L4.4","D130019J16Rik","Gm37848","Gm29013","Gm12158","Racgap1","Dst","Gm28641","Nlgn1","Npr3","H2−Q6","C230088H06Rik","E130218I03Rik","Hsph1","Zfp593","Gm26785","2010015M23Rik","Hsp90ab1","6330403N20Rik","Gm28960","Slco4a1","Igf2bp2","Tmsb4x","Rpl19","Sod1"];
const c1Wk6=[.3,.22,-.15,.18,.25,.5,.22,.3,.35,.85,.85,.15,.35,.38,1,.6,.3,.38,.5,.42,.42,.32,.85,.45,.38,.4,.65,.62,.42,-.15,-.38,.25,-.3,0,-.88,-.4,-.6,-.88,-.72,-.92,-.97,-.95,-.3,-.55,-.42,-.92,.22,-.22,-.38,-.42];
const c1Wk20=[-.38,-.05,-.22,.12,-.38,-.5,-.38,-.3,-.25,-.95,-.72,-.38,-.48,-.48,-.98,-.42,-.32,-.12,-.45,-.5,-.35,-.15,-.28,-.32,-.28,-.15,-.2,-.25,-.18,.35,-.2,.55,.42,.78,.5,.55,.5,.55,.85,.55,.8,.65,.35,.35,.2,1,-.32,-.28,-.2,-.32];
const c2Genes=["Per1","Fkbp5","Ndrg1","Tek","Eng","Mal","Gm17035","Jup","Nckipsd","Abcg2","Adgrg1","Sult1a1","Tgm2","Tcn2","Slc34a1","Entpd1","Syt11","Ric1","Gm10062","RP24−121I11.1","Rps6","Rpl9","Nanos1","Hspb1","Rps3","Rexo2","Kti12","Rpl13a","Hsp90aa1","Cst3","Rpl4","Pdlim1","Bst2","Gm6472","Rpl18a","Nrep","mt−Nd1","Art3","Rpl13","Eif1a","Rps7","Rrp15","Polr3d","Orai1"];
const c2Wk6=[-.78,.28,.28,.25,.18,.3,.28,.17,.5,.42,.4,.28,.22,.25,.85,.22,.25,-.07,.25,.25,-.45,-.5,-.97,-.65,-.58,-.9,-.85,-.35,-.6,-.45,-.38,-.85,-.65,-.62,-.4,-.9,-.27,-.62,-.42,-.58,-.62,-.72,-.98,-.42];
const c2Wk11=[.5,.75,.22,.2,.2,.28,.2,.15,.42,.42,.42,.38,.32,.35,1,.35,-.02,-.98,-.3,-.28,-.3,-.28,-.4,-.28,-.2,-.22,-.45,-.28,-.28,-.38,-.18,-.7,-.55,-.58,-.5,-.98,-.4,-.75,-.45,-.75,-.58,-.72,-.98,-.38];
const c3Genes=["Slc6a6","Nr1d1","RP23−435I16.2","Lfng","Ucp2","Ifitm3","Sost","Serinc3","Prtg","Ctcfl","Rmdn1","B2m","Clu","Rps14","Ppia","Gm26825","Ifitm2","Myl6","Fau","mmu−mir−5121","Gm27597","Rps19","Basp1","Gm20481","Esm1","Hspa1a","Igf1","Rps18","Tmem255b","Chchd10","Egr1","Rplp1","Lgr5"];
const c3Wk6=[.28,.38,.22,.42,.4,-.17,.58,.3,.12,.35,.22,-.18,-.78,-.17,-.17,-.1,-.15,-.18,-.22,-.15,-.2,-.3,-.3,-.38,-.42,-.38,-.55,-.22,-.45,-.72,-.2,-.17,-.42];
const c3Wk11=[.25,.42,.22,.68,.58,-.12,1,.55,-.12,-.3,-.17,-.12,.17,-.12,-.12,.15,-.12,-.12,-.18,-.12,-.12,-.22,-.3,-.38,-.45,-.38,-.88,-.2,-.75,-.83,-.45,-.15,-.98];
const c3Wk20=[-.2,-.28,-.38,-.5,-.22,-.15,-.62,-.38,-.42,-.33,-.32,-.05,.88,-.12,-.06,.25,-.17,-.16,-.17,-.12,-.12,-.12,.15,.45,.55,.42,.4,-.17,.72,.55,.9,-.17,.22];
const c4Genes=["Prom1","Tcf4","Rasd1","Gm15455","Hspa5","Ces2b","Rplp1","RP23−387L12.2","Rasa4","Rps27a","Junb","Gimap8","Nfkbiz","Scin","Nr4a1","Arrb1","Gadd45b","Adamts19","Ptp4l1","Irf2","Ppp1r15a","Fos","Hbegf","Emp1","Tmem26","Vegfc","Ces2g","Aqp1","Olfml2b","Picot","Dusp26","Serpine2","Plk2","Nrp1","Gimap4","Plk3","Cldn5","Hes7","Fam198a","Tubb4b","Rtp4","Hnrnpu","Rps23","Gm28062","Ube52","Gm37376","AC107830.1","Gm11942","Rpl30","Tmsf4","Cbx3","Rps24","Nabp1","Rpl36","Rpl35a","Rpl37","Gna12","Rpl3","Cyp79k1","Rpl26","Slc38a1","Rpl32","Sbds2","Rpl41","Ar","Rps29","Cirbp","Atp5j","Rpl35","RP23−98A21.1","Gm16073","Mcnf1","Wdr38","Siglec1","Rps27","Rps28","Gm38082","Gm5244","Nfia","Fam167b","Xdh","Lrg1","Rpl31","Ccn4l","Klf2","0610039K10Rik","Mfap2","Rgcc","Arhgap11","Dbp","Cox6a1","RP23−402P21.3","2310036O22Rik","Cox7a2","Rpl15","4933429H19Rik","Gm7008","Rps15a","Zscgr25","mt−Tv","Rps21","Cant1","Scap1","Ssr4","Gm15966","Rpl39","Rplp2","Ndufa11","Rpl37a","Rps27rt","mt−Rnr1","Rps17","Pam","Tomm7","Gm8a","Atf6"];
const c4Wk11=[.1,.08,.12,.08,.12,-.35,-.38,-.3,-.78,-.3,-.12,-.35,-.04,-.6,-.58,-.22,-.03,-.68,-.15,-.15,-.08,-.06,-.55,-.32,-.72,-.85,-.97,-.5,-.12,-.22,-.52,-.45,-.45,-.22,-.15,-.05,-.6,-.32,-.3,-.32,-.2,-.38,-.38,-.42,-.3,-.27,-.85,-.3,-.38,-.48,-.88,-.3,-.45,-.35,-.35,-.3,-.28,-.3,-.7,-.33,-.58,-.4,-.35,-.28,-.48,-.32,-.33,-.38,-.45,-.25,-.28,-.2,-.42,-.4,-.42,-.32,-.85,-.38,-.78,.08,.2,.2,-.15,-.12,-.22,.18,.2,.15,-.15,.16,-.22,-.1,-.4,-.22,-.35,-.38,-.3,-.35,-.38,-.1,-.35,-.28,-.25,-.3,-.25,-.32,-.2,-.33,-.3,-.22,-.22,-.2,-.12,-.35,-.42,-.55];
const c4Wk20=[.08,.35,.22,.18,.2,.2,-.2,.06,.2,-.2,.25,.25,.25,.45,.4,.3,.3,.28,.18,.15,.32,.35,.22,.12,.22,.28,.42,.35,.32,.18,.28,.25,.25,.12,.14,.22,.35,.25,.15,.2,.18,-.2,-.25,-.2,-.18,-.1,-.38,-.15,-.2,-.25,-.42,-.28,.15,-.32,-.38,-.3,-.28,-.3,-.62,-.28,-.42,-.32,-.3,-.28,-.45,-.18,-.15,-.2,-.3,-.2,-.15,-.22,-.28,-.15,-.25,-.15,-.22,-.15,-.42,-.38,-.3,-.55,-.45,-.3,-.3,-.42,-.55,-.38,-.4,-.98,-.42,-.4,-.58,-.5,-.38,-.42,-.25,-.5,-.4,-.15,-.45,-.4,-.32,-.35,-.3,-.5,-.38,-.5,-.42,-.38,-.35,-.3,-.38,-.3,-.35,-.78];
const d1Genes=["Hspa8","Gm26825","Gm15459","C230088H06Rik","Ubc","Hsp90ab1","Hsph1","Mbtd1","Sphk2","S100a6","Tacc1","Dbp","Ak1","Drap1","Ctcfl","Cirbp","Rpl37a","Rpl21","Gm11934","Rpl38","Atp5l","Gm26766","Cyp26b1","Sept10","Racgap1","D130019J16Rik"];
const d1Wk6=[-.2,-.2,-.2,-.3,-.15,-.22,-.78,.55,.45,.42,.45,.85,1,.42,.42,.35,.35,.28,.38,.55,.55,.48,.55,.25,.55,.48];
const d1Wk20=[.32,.32,.25,.35,.25,.35,.9,-.12,-.48,-.5,-.42,-.98,-.65,-.68,-.28,-.55,-.42,-.25,-.32,-.5,-.62,-.32,-.62,-.42,-.2,-.2];
const d2Genes=["Xdh","Bgn","Sost","Serpine2","Eng","Dusp26","mt−Nd6","Igfbp7","Aplnr","Fbln5","Nr3c1"];
const d2Wk6=[.25,.8,.72,.65,.18,-.42,.3,.4,.25,.55,.15];
const d2Wk11=[.75,1,.72,.72,.18,-.87,-.85,-.98,.15,-.25,-.78];
const d3Genes=["Ucp2","Gpihbp1","0610039K10Rik","Rgcc","Sult1a1","Serinc3"];
const d3Wk6=[.75,.7,.35,.43,.48,.4];
const d3Wk11=[.78,.97,.82,.98,.95,.92];
const d3Wk20=[-.6,-.98,-.98,-.98,-.9,-.97];
const d4Genes=["Igfbp5","Scin","Ces2e","Ces2g","mt−Atp6","mt−Atp8","mt−Rnr1","Qrfpr","Fabp4","Slc43a3"];
const d4Wk11=[-.62,-.48,-.85,-.56,-.2,-.2,-.15,1,.32,.25];
const d4Wk20=[.48,.8,.72,.68,-.2,-.15,-.38,-.56,-.82,-.27];

// ---------- Venn numbers, panel B ----------
const vennC=["355","44","699","33","50","116","285"];
const vennD=["696","11","74","6","26","10","143"];
const vennCTotals=["(482)","(894)","(486)"];
const vennDTotals=["(739)","(103)","(187)"];
const vennWeeks=["6 wks","11 wks","20 wks"];
const degBoxes=["AA","GEC","EA","DVR","AVR","PCEC","VEC"];
const degCounts=[[2,0,2],[1251,103,187],[40,2,39],[11,5,3],[49,11,45],[482,894,486],[0,0,5]];

// ---------- drawing ----------
const svg=d3.select("#chart").append("svg").attr("width",3351).attr("height",3736).attr("viewBox","0 0 3351 3736");
const ARIAL="'Liberation Sans',Arial,sans-serif", OPEN="'Open Sans',sans-serif", LATO="Lato,sans-serif";
const color=d3.scaleLinear().domain([-1,-.5,0,.5,1]).range(["#2050a5","#9a9acc","#ffffff","#ff9595","#ff3320"]);
function txt(x,y,s,o={}){const t=svg.append("text").attr("x",x).attr("y",y).text(s)
 .attr("font-family",o.f||ARIAL).attr("font-size",o.s||40).attr("fill",o.c||"#1a1a1a").attr("text-anchor",o.a||"start");
 if(o.w)t.attr("font-weight",o.w);return t;}

function umap(xr,xd,series,labels,showY){
 const x=d3.scaleLinear().domain(xd).range(xr), y=d3.scaleLinear().domain([-8.655,6.477]).range([899,100]);
 const g=svg.append("g");
 series.forEach(([pts,c])=>{const ds=d3.range(0,pts.length,2).map(i=>[pts[i],pts[i+1]]);
  g.selectAll(null).data(ds).join("circle").attr("cx",d=>x(d[0])).attr("cy",d=>y(d[1])).attr("r",2.9).attr("fill",c);});
 const ax=svg.append("g").attr("transform","translate(0,899)").call(d3.axisBottom(x).tickValues([-3,0,3]).tickSize(9).tickSizeOuter(0).tickPadding(14));
 ax.select(".domain").attr("stroke","#444").attr("stroke-width",4);
 ax.selectAll("line").attr("stroke","#444").attr("stroke-width",2);
 ax.selectAll("text").attr("font-family",ARIAL).attr("font-size",31).attr("fill","#333");
 if(showY){const ay=svg.append("g").attr("transform",`translate(${xr[0]},0)`).call(d3.axisLeft(y).tickValues([-5,0,5]).tickSize(8).tickSizeOuter(0).tickPadding(6));
  ay.select(".domain").attr("stroke","#555").attr("stroke-width",2.5);
  ay.selectAll("line").attr("stroke","#555").attr("stroke-width",2);
  ay.selectAll("text").attr("font-family",ARIAL).attr("font-size",31).attr("fill","#333");}
 labels.forEach(([s,lx,ly,a])=>{const [m,sup]=s.split("|");
  const t=txt(lx,ly,m,{f:LATO,s:40,a:a||"middle",c:"#000"});
  if(sup)t.append("tspan").attr("dy",-15).attr("font-size",30).text(sup);});
}
umap([139,1104],[-5.825,5.554],[[lean_EA,dotColors.EA],[lean_strayGrey,dotColors.EA],[lean_PCEC,dotColors.PCEC],[lean_PCEC2,dotColors.PCEC],[lean_VEC,dotColors.VEC],[lean_AVR,dotColors.AVR],[lean_Tip,dotColors.Tip],[lean_DVR,dotColors.DVR],[lean_Unknown,dotColors.Unknown],[lean_GE,dotColors.GE],[lean_GEhigh,dotColors.GEh],[lean_PCECh,dotColors.PCECh],[lean_AA,dotColors.AA],[lean_LVEC,dotColors.LVEC],[lean_Cycling,dotColors.Cycling],[lean_strayPCEC,dotColors.PCEC],[lean_strayGE,dotColors.GE]],
 [["VEC",465,219],["PCEC",644,296],["Cycling",938,178],["Tip",698,452],["AVR",533,490],["Unknown",1020,491],["EA",831,508],["GE",230,581],["DVR",898,623],["PCEC|IEG-high",494,678,"start"],["GE|IEG-high",253,770,"start"],["AA",788,747],["LVEC",583,851]],true);
umap([1121,2090],[-5.835,5.565],[[ob_EA,dotColors.EA],[ob_strayGrey,dotColors.EA],[ob_PCEC,dotColors.PCEC],[ob_PCEC2,dotColors.PCEC],[ob_VEC,dotColors.VEC],[ob_AVR,dotColors.AVR],[ob_Tip,dotColors.Tip],[ob_DVR,dotColors.DVR],[ob_Unknown,dotColors.Unknown],[ob_GE,dotColors.GE],[ob_GEhigh,dotColors.GEh],[ob_PCECh,dotColors.PCECh],[ob_AA,dotColors.AA],[ob_LVEC,dotColors.LVEC],[ob_Cycling,dotColors.Cycling],[ob_strayPCEC,dotColors.PCEC],[ob_strayGE,dotColors.GE],[ob_strayPurple,dotColors.PCECh],[ob_strayGreen,dotColors.AVR]],
 [["VEC",1457,227],["PCEC",1639,301],["Cycling",1965,189],["Tip",1692,457],["AVR",1527,496],["Unknown",2012,497],["EA",1825,515],["GE",1224,587],["DVR",1892,629],["PCEC|IEG-high",1488,686,"start"],["GE|IEG-high",1245,775,"start"],["AA",1781,754],["LVEC",1577,858]],false);

txt(63,102,"A",{s:82,w:"bold",c:"#111"});
txt(2544,99,"B",{s:82,w:"bold",c:"#111"});
txt(287,118,"Non-diabetic (Lean) EC",{s:71.5});
{const t=txt(1374,113,"Diabetic (",{s:71.3});t.append("tspan").attr("font-style","italic").text("ob/ob");t.append("tspan").text(") EC");}
txt(158,965,"UMAP 1",{s:51,c:"#333"});
txt(0,0,"UMAP 2",{s:51,c:"#333"}).attr("transform","translate(130,957) rotate(-90)");

// legend of clusters
clusterNames.forEach((n,i)=>{const y=180+i*55.2;
 svg.append("circle").attr("cx",2151).attr("cy",y).attr("r",14).attr("fill",legendColors[i]);
 const [m,sup]=n.split("|");const t=txt(2203,y+14,m,{f:OPEN,s:40,c:"#111"});
 if(sup)t.append("tspan").attr("dy",-15).attr("font-size",33).text(sup);});

// panel B
{const t=txt(2638,193,"DEG’s at ",{s:41.6,w:"bold",c:"#111"});
 t.append("tspan").attr("fill","#ff1f1f").text("6 wks");t.append("tspan").text(", 11 wks, ");t.append("tspan").attr("fill","#0070c0").text("20 wks");}
const bLines=[[2939,215,2939,453],[2932,529,2863,647],[2953,529,3000,586],[3003,662,3003,695],[2858,724,2935,807],[3009,770,2948,807],[2939,883,2939,923]];
svg.selectAll(null).data(bLines).join("line").attr("x1",d=>d[0]).attr("y1",d=>d[1]).attr("x2",d=>d[2]).attr("y2",d=>d[3]).attr("stroke","#1a1a1a").attr("stroke-width",5);
const bRects=[[2881,237,117,76],[2881,348,117,76],[2881,453,117,76],[2940,586,118,76],[2940,694,118,76],[2780,647,144,77],[2881,807,117,76]];
const bNums=[[3012,287],[3009,400],[3011,505],[3074,640],[3069,742],[2605,775],[3011,863]];
degBoxes.forEach((n,i)=>{const [x,y,w,h]=bRects[i];
 svg.append("rect").attr("x",x).attr("y",y).attr("width",w).attr("height",h).attr("fill","#7f8285");
 txt(x+w/2,y+h/2+20,n,{f:LATO,s:56,c:"#fff",a:"middle"});
 const t=txt(bNums[i][0],bNums[i][1],"",{f:LATO,s:41,c:"#222"});
 t.append("tspan").attr("fill","#ff1f1f").text(degCounts[i][0]);
 t.append("tspan").text(", "+degCounts[i][1]+", ");
 t.append("tspan").attr("fill","#0070c0").text(degCounts[i][2]);});

// boxes C, D
svg.append("rect").attr("x",102).attr("y",1031).attr("width",3213).attr("height",1324).attr("rx",88).attr("fill","none").attr("stroke","#1a1a1a").attr("stroke-width",5);
svg.append("rect").attr("x",108).attr("y",2394).attr("width",3207).attr("height",1315).attr("rx",88).attr("fill","none").attr("stroke","#1a1a1a").attr("stroke-width",5);
txt(160,1116,"C",{s:82,w:"bold",c:"#111"});
txt(266,1108,"PCEC",{f:OPEN,s:76,c:"#222"});
txt(170,2481,"D",{s:82,w:"bold",c:"#111"});
txt(286,2481,"GEC",{f:OPEN,s:76,c:"#222"});

function heat(o){
 const rows=d3.scaleBand().domain(o.genes).range([o.top,o.bottom]);
 const cols=d3.scaleBand().domain(d3.range(o.values.length)).range([o.left,o.right]);
 o.values.forEach((v,c)=>{
  svg.append("g").selectAll("rect").data(v).join("rect").attr("x",cols(c)).attr("width",cols.bandwidth())
   .attr("y",(d,i)=>rows(o.genes[i])).attr("height",rows.bandwidth()).attr("fill",d=>color(d))
   .attr("stroke","#9a9a9a").attr("stroke-width",o.sw||2);
  txt(o.hx[c],o.hy,o.heads[c],{f:OPEN,s:o.hs||42,a:"middle",c:"#222"});
 });
 svg.append("g").selectAll("text").data(o.genes).join("text").attr("x",o.lx).attr("y",d=>rows(d)+rows.bandwidth()/2+(o.dy||0))
  .attr("dominant-baseline","middle").attr("font-family",ARIAL).attr("font-size",o.fs).attr("fill","#111").text(d=>d);
}
heat({genes:c1Genes,values:[c1Wk6,c1Wk20],heads:["6","20"],left:156,right:328,top:1206,bottom:2322,hx:[184,276],hy:1192,lx:337,fs:21,dy:4});
heat({genes:c2Genes,values:[c2Wk6,c2Wk11],heads:["6","11"],left:552,right:769,top:1208,bottom:2326,hx:[605,713],hy:1192,lx:783,fs:28,dy:-6});
heat({genes:c3Genes,values:[c3Wk6,c3Wk11,c3Wk20],heads:["6","11","20"],left:1964,right:2230,top:1212,bottom:2338,hx:[1997,2091,2182],hy:1190,lx:2239,fs:24,dy:4});
heat({genes:c4Genes,values:[c4Wk11,c4Wk20],heads:["11","20"],left:2465,right:2646,top:1217,bottom:2334,hx:[2503,2601],hy:1190,lx:2651,fs:10.5,sw:3});
heat({genes:d1Genes,values:[d1Wk6,d1Wk20],heads:["6","20"],left:158,right:347,top:2557,bottom:3679,hx:[202,302],hy:2541,lx:357,fs:23.5,dy:4});
heat({genes:d2Genes,values:[d2Wk6,d2Wk11],heads:["6","11"],left:552,right:795,top:2564,bottom:3529,hx:[611,728],hy:2548,lx:822,fs:24,dy:-4});
heat({genes:d3Genes,values:[d3Wk6,d3Wk11,d3Wk20],heads:["6","11","20"],left:1964,right:2263,top:2564,bottom:3235,hx:[2012,2112,2223],hy:2551,lx:2270,fs:25.5,dy:2});
heat({genes:d4Genes,values:[d4Wk11,d4Wk20],heads:["11","20"],left:2466,right:2686,top:2564,bottom:3263,hx:[2518,2625],hy:2549,lx:2704,fs:24});

function venn(id,c,r,nums,numPos,wkPos,totals){
 const fills=["#fcd9af","#adafda","#a6c1af"];
 const defs=svg.append("defs");
 c.forEach((p,i)=>defs.append("clipPath").attr("id",id+i).append("circle").attr("cx",p[0]).attr("cy",p[1]).attr("r",r));
 const circ=(g,i,f)=>g.append("circle").attr("cx",c[i][0]).attr("cy",c[i][1]).attr("r",r).attr("fill",f);
 c.forEach((p,i)=>circ(svg,i,fills[i]));
 circ(svg.append("g").attr("clip-path",`url(#${id}0)`),1,"#d4a6a3");
 circ(svg.append("g").attr("clip-path",`url(#${id}0)`),2,"#cab27d");
 circ(svg.append("g").attr("clip-path",`url(#${id}1)`),2,"#7c94ad");
 circ(svg.append("g").attr("clip-path",`url(#${id}0)`).append("g").attr("clip-path",`url(#${id}1)`),2,"#ac9082");
 c.forEach((p,i)=>svg.append("circle").attr("cx",p[0]).attr("cy",p[1]).attr("r",r).attr("fill","none").attr("stroke","#222").attr("stroke-width",3));
 nums.forEach((n,i)=>txt(numPos[i][0],numPos[i][1],n,{s:52,a:"middle",c:"#222"}));
 vennWeeks.forEach((w,i)=>{txt(wkPos[i][0],wkPos[i][1],w,{s:52,a:"middle",c:"#222"});txt(wkPos[i][2],wkPos[i][3],totals[i],{s:52,a:"middle",c:"#222"});});
}
venn("vc",[[1304,1740],[1605,1740],[1460,1980]],254,vennC,[[1248,1699],[1457,1699],[1715,1711],[1455,1820],[1319,1919],[1603,1919],[1472,2110]],[[1142,1421,1142,1485],[1776,1415,1776,1481],[1196,2207,1198,2273]],vennCTotals);
venn("vd",[[1306,3011],[1606,3011],[1461,3250]],254,vennD,[[1248,2969],[1455,2969],[1670,2982],[1448,3108],[1320,3190],[1590,3190],[1475,3381]],[[1184,2687,1185,2752],[1742,2693,1741,2756],[1168,3434,1169,3499]],vennDTotals);

function colorbar(x0,x1,y0,y1,cx,upY,downY){
 const s=d3.scaleLinear().domain([1,-1]).range([y0,y1]);
 const vals=d3.range(1,-1,-2/44);
 svg.append("g").selectAll("rect").data(vals).join("rect").attr("x",x0).attr("width",x1-x0).attr("y",d=>s(d)).attr("height",(y1-y0)/44+.6).attr("fill",d=>color(d));
 txt(cx,upY,"up-regulation",{f:OPEN,s:54.5,a:"middle",c:"#222"});
 txt(cx,downY,"down-regulation",{f:OPEN,s:54.5,a:"middle",c:"#222"});
}
colorbar(3029,3095,1585,1914,3059,1552,1979);
colorbar(3034,3100,2832,3162,3063,2796,3224);
</script></body></html>
